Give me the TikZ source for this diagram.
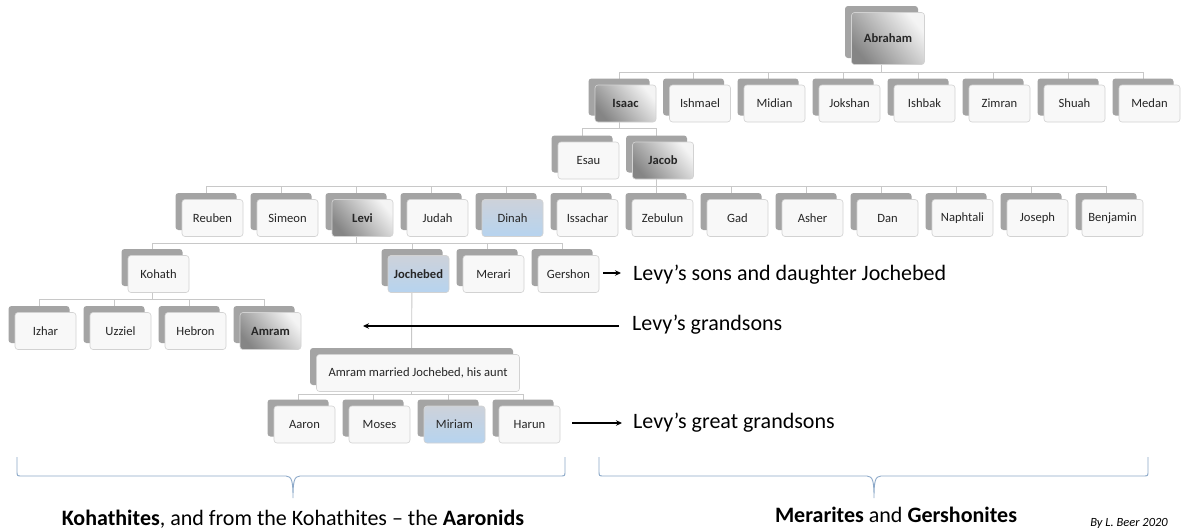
\documentclass[tikz,border=0pt]{standalone}
\usepackage{fontspec}
\setmainfont{Carlito}
\usetikzlibrary{arrows.meta}
\pgfdeclarelayer{background}
\pgfsetlayers{background,main}

\definecolor{backgray}{HTML}{A4A4A4}
\definecolor{boxline}{HTML}{D2D2D2}
\definecolor{boxfill}{HTML}{F8F8F8}
\definecolor{connline}{HTML}{C8C8C8}
\definecolor{bracecol}{HTML}{8DA9C9}
\definecolor{txt}{HTML}{262626}
\definecolor{gradlight}{HTML}{F4F4F4}
\definecolor{graddark}{HTML}{858585}
\definecolor{bluetop}{HTML}{CDD2DA}
\definecolor{bluebot}{HTML}{B6D3EF}

\tikzset{
  backbox/.style={rectangle, rounded corners=3pt, fill=backgray,
    minimum width=61pt, minimum height=37pt, inner sep=0pt},
  frontbox/.style={rectangle, rounded corners=3pt, draw=boxline, line width=0.6pt,
    fill=boxfill, minimum width=61pt, minimum height=37pt, inner sep=0pt,
    font=\fontsize{12.6}{14}\selectfont, text=txt},
  keybox/.style={frontbox, top color=gradlight, bottom color=graddark,
    shading angle=-50, font=\fontsize{12.6}{14}\selectfont\bfseries},
  bluebox/.style={frontbox, top color=bluetop, bottom color=bluebot},
  conn/.style={draw=connline, line width=0.9pt},
  ann/.style={draw=black, line width=1.1pt, -{Stealth[length=6pt,width=5.5pt]}},
  annlabel/.style={inner sep=0pt, anchor=base west, font=\fontsize{22}{26}\selectfont},
  groupbrace/.style={draw=bracecol, line width=0.9pt},
  grouplabel/.style={inner sep=0pt, anchor=base, font=\fontsize{22}{26}\selectfont},
}

% back card, then the front card offset down and to the right
\newcommand{\famnode}[6][]{%
  \node[backbox,#1] (#2) at (#3,#4) {};
  \node[#5,#1] (#2F) at ({#3+6.5},{#4+6.5}) {#6};}

\begin{document}
\begin{tikzpicture}[x=1pt,y=-1pt]
\useasboundingbox (0,0) rectangle (1181,531);

% Abraham and his sons
\famnode[minimum width=73pt,minimum height=52pt]{abraham}{881.5}{32}{keybox}{Abraham}
\famnode{isaac}{619}{97}{keybox}{Isaac}
\famnode{ishmael}{693.5}{97}{frontbox}{Ishmael}
\famnode{midian}{768}{97}{frontbox}{Midian}
\famnode{jokshan}{843}{97}{frontbox}{Jokshan}
\famnode{ishbak}{918}{97}{frontbox}{Ishbak}
\famnode{zimran}{993}{97}{frontbox}{Zimran}
\famnode{shuah}{1068}{97}{frontbox}{Shuah}
\famnode{medan}{1143}{97}{frontbox}{Medan}

% Isaac's sons
\famnode{esau}{582}{154}{frontbox}{Esau}
\famnode{jacob}{656.5}{154}{keybox}{Jacob}

% Jacob's children
\famnode{reuben}{206}{211.5}{frontbox}{Reuben}
\famnode{simeon}{281}{211.5}{frontbox}{Simeon}
\famnode{levi}{356}{211.5}{keybox}{Levi}
\famnode{judah}{431}{211.5}{frontbox}{Judah}
\famnode{dinah}{506}{211.5}{bluebox}{Dinah}
\famnode{issachar}{581}{211.5}{frontbox}{Issachar}
\famnode{zebulun}{656}{211.5}{frontbox}{Zebulun}
\famnode{gad}{731}{211.5}{frontbox}{Gad}
\famnode{asher}{806}{211.5}{frontbox}{Asher}
\famnode{dan}{881}{211.5}{frontbox}{Dan}
\famnode{naphtali}{956}{211.5}{frontbox}{Naphtali}
\famnode{joseph}{1031}{211.5}{frontbox}{Joseph}
\famnode{benjamin}{1106}{211.5}{frontbox}{Benjamin}

% Levi's children
\famnode{kohath}{152}{267.5}{frontbox}{Kohath}
\famnode{jochebed}{412}{267.5}{bluebox,font=\fontsize{12.6}{14}\selectfont\bfseries}{Jochebed}
\famnode{merari}{487}{267.5}{frontbox}{Merari}
\famnode{gershon}{562}{267.5}{frontbox}{Gershon}

% Kohath's sons
\famnode{izhar}{39}{324.5}{frontbox}{Izhar}
\famnode{uzziel}{114}{324.5}{frontbox}{Uzziel}
\famnode{hebron}{189}{324.5}{frontbox}{Hebron}
\famnode{amram}{264}{324.5}{keybox}{Amram}

% the marriage and its children
\famnode[minimum width=203pt]{married}{411.5}{366.5}{frontbox}{Amram married Jochebed, his aunt}
\famnode{aaron}{298}{418}{frontbox}{Aaron}
\famnode{moses}{373}{418}{frontbox}{Moses}
\famnode{miriam}{448}{418}{bluebox}{Miriam}
\famnode{harun}{523}{418}{frontbox}{Harun}

% heights of the horizontal bars of the tree
\coordinate (barA) at (0,72);
\coordinate (barB) at (0,128);
\coordinate (barC) at (0,186);
\coordinate (barD) at (0,243);
\coordinate (barE) at (0,299);
\coordinate (barF) at (0,394);

\begin{pgfonlayer}{background}
  \fill[white] (0,0) rectangle (1181,531);
  \foreach \c in {isaac,ishmael,midian,jokshan,ishbak,zimran,shuah,medan}
    \draw[conn] (abraham.center) |- (\c |- barA) -- (\c.center);
  \foreach \c in {esau,jacob}
    \draw[conn] (isaac.center) |- (\c |- barB) -- (\c.center);
  \foreach \c in {reuben,simeon,levi,judah,dinah,issachar,zebulun,gad,asher,dan,naphtali,joseph,benjamin}
    \draw[conn] (jacob.center) |- (\c |- barC) -- (\c.center);
  \foreach \c in {kohath,jochebed,merari,gershon}
    \draw[conn] (levi.center) |- (\c |- barD) -- (\c.center);
  \foreach \c in {izhar,uzziel,hebron,amram}
    \draw[conn] (kohath.center) |- (\c |- barE) -- (\c.center);
  \draw[conn] (jochebed.center) -- (married.center);
  \foreach \c in {aaron,moses,miriam,harun}
    \draw[conn] (married.center) |- (\c |- barF) -- (\c.center);
\end{pgfonlayer}

% generation notes
\node[annlabel] (lblsons) at (633,280) {Levy’s sons and daughter Jochebed};
\node[annlabel] (lblgrand) at (632,330) {Levy’s grandsons};
\node[annlabel] (lblgreat) at (633,428) {Levy’s great grandsons};

\coordinate (sonsFrom) at (603,273);
\coordinate (sonsTo) at (621,273);
\coordinate (grandFrom) at (619,326);
\coordinate (grandTo) at (363,326);
\coordinate (greatFrom) at (572,423);
\coordinate (greatTo) at (622,423);
\draw[ann] (sonsFrom) -- (sonsTo);
\draw[ann] (grandFrom) -- (grandTo);
\draw[ann] (greatFrom) -- (greatTo);

% group braces
\draw[groupbrace] (17,457) -- (17,471) .. controls (17,476) .. (22,476)
  -- (286,476) .. controls (292,476) and (293,482) .. (293,498)
  .. controls (293,482) and (294,476) .. (300,476)
  -- (560,476) .. controls (565,476) .. (565,471) -- (565,457);
\draw[groupbrace] (599,457) -- (599,471) .. controls (599,476) .. (604,476)
  -- (867,476) .. controls (873,476) and (874,482) .. (874,498)
  .. controls (874,482) and (875,476) .. (881,476)
  -- (1143,476) .. controls (1148,476) .. (1148,471) -- (1148,457);

\node[grouplabel] (kohathites) at (293,525) {\textbf{Kohathites}, and from the Kohathites – the \textbf{Aaronids}};
\node[grouplabel] (merarites) at (896,522) {\textbf{Merarites} and \textbf{Gershonites}};
\node[inner sep=0pt, anchor=base east, font=\fontsize{12.5}{14}\selectfont\itshape] (credit) at (1168,526) {By L. Beer 2020};
\end{tikzpicture}
\end{document}
